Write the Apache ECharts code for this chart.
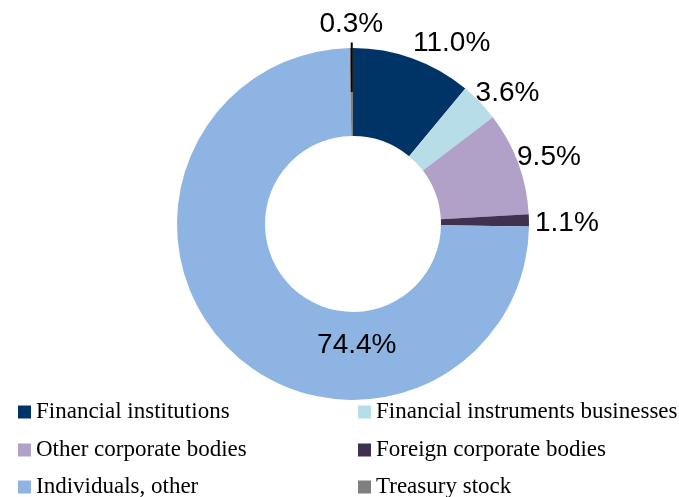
<!DOCTYPE html>
<html><head><meta charset="utf-8">
<script src="https://cdn.jsdelivr.net/npm/echarts@6/dist/echarts.min.js"></script>
<style>html,body{margin:0;padding:0;background:#fff}#chart{width:679px;height:497px}</style>
</head><body><div id="chart"></div>
<script>
// ---- data ----
const categories = ['Financial institutions', 'Financial instruments businesses', 'Other corporate bodies', 'Foreign corporate bodies', 'Individuals, other', 'Treasury stock'];
const shares = [11.0, 3.6, 9.5, 1.1, 74.4, 0.3];
const colors = ['#003366', '#B7DDE8', '#B1A0C7', '#403151', '#8EB4E3', '#7F7F7F'];

// ---- layout / style ----
const CENTER = [353, 224], R_OUT = 176, R_IN = 88;
const labelNudge = [[0, -14], [-5, -8], [-2, -5], [5, 3], [99, 26], [0, -22.5]];
const LEADER_INDEX = 5;
const legendCols = [18, 358];
const legendRowTops = [400.5, 438.5, 475.5];

const chart = echarts.init(document.getElementById('chart'), null, {renderer: 'canvas'});

const labelBase = {
  show: true, position: 'outside', distanceToLabelLine: 0,
  fontFamily: 'Liberation Sans, Arial, sans-serif', fontSize: 28, color: '#000',
  formatter: p => p.value.toFixed(1) + '%'
};

const mainData = categories.map((name, i) => {
  const item = {name: name, value: shares[i], itemStyle: {color: colors[i]}};
  if (i === 4) item.label = {position: 'inside'};
  if (i === LEADER_INDEX) item.label = {show: false};
  return item;
});

// transparent overlay carrying the leader-lined label so it draws above the slices
const overlayData = categories.map((name, i) => {
  const item = {name: name, value: shares[i], itemStyle: {color: 'rgba(0,0,0,0)'}, label: {show: false}};
  if (i === LEADER_INDEX) {
    item.label = {show: true};
    item.labelLine = {show: true, length: 1, length2: 0, lineStyle: {color: '#000', width: 2}};
  }
  return item;
});

function nudgeLayout(params) {
  const i = params.dataIndex;
  const n = labelNudge[i];
  const out = {dx: n[0], dy: n[1]};
  if (i === LEADER_INDEX) {
    out.align = 'center';
    if (params.labelLinePoints) {
      const p = params.labelLinePoints[0];
      const k = (R_OUT + R_IN) / 2 / R_OUT;
      const mid = [CENTER[0] + (p[0] - CENTER[0]) * k, CENTER[1] + (p[1] - CENTER[1]) * k];
      const topY = params.labelRect.y + params.labelRect.height + n[1] + 4;
      out.labelLinePoints = [mid, [mid[0], topY]];
    }
  }
  return out;
}

// one legend per entry: 2 columns x 3 rows, in the order of the categories
const legends = categories.map((name, i) => ({
  orient: 'horizontal', left: legendCols[i % 2], top: legendRowTops[Math.floor(i / 2)],
  padding: 0, itemWidth: 13, itemHeight: 13, icon: 'rect', selectedMode: false,
  textStyle: {fontFamily: 'Liberation Serif, Times New Roman, serif', fontSize: 23, color: '#000', lineHeight: 22},
  data: [name]
}));

const pieCommon = {
  type: 'pie', center: CENTER, radius: [R_IN, R_OUT], startAngle: 90, clockwise: true,
  avoidLabelOverlap: false, itemStyle: {borderWidth: 0}, emphasis: {disabled: true},
  label: labelBase, labelLine: {show: false, length: 1, length2: 0},
  labelLayout: nudgeLayout
};

chart.setOption({
  animation: false,
  backgroundColor: '#fff',
  legend: legends,
  series: [
    Object.assign({}, pieCommon, {name: 'main', data: mainData}),
    Object.assign({}, pieCommon, {name: 'overlay', z: 5, silent: true, legendHoverLink: false, data: overlayData})
  ]
});
</script>
</body></html>
